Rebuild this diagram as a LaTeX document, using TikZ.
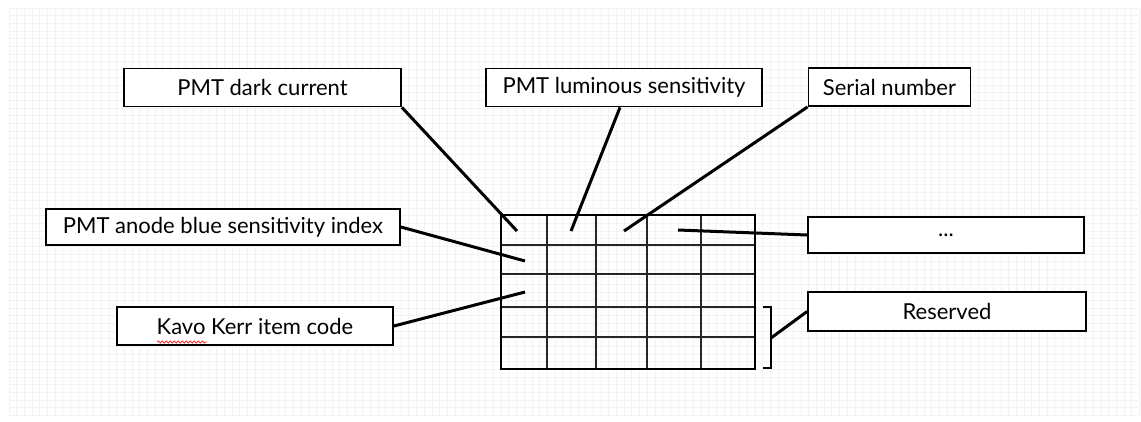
\documentclass[tikz,border=0pt]{standalone}
\usepackage{fontspec}
\setmainfont{Lato}
\usetikzlibrary{positioning,decorations.pathmorphing}

\begin{document}
\begin{tikzpicture}[x=1pt,y=-1pt,
  field/.style={draw,line width=1.8pt,fill=white,inner sep=0pt,
                font=\fontsize{22}{25}\selectfont,minimum height=38pt},
  link/.style={line width=3pt},
  rule/.style={line width=1.6pt,black!85},
  every node/.style={inner sep=2pt}]
  \useasboundingbox[fill=white] (0,0) rectangle (1141,421);
  %  -- - background grid  -- -
  \foreach \gx in {0,...,167} \draw[gray!10,line width=0.8pt] ({9+7.69*\gx},8) -- ({9+7.69*\gx},416);
  \foreach \gy in {0,...,53} \draw[gray!10,line width=0.8pt] (9,{8+7.69*\gy}) -- (1138,{8+7.69*\gy});
  %  -- - record table  -- -
  \foreach \cx in {547,596,647,701} \draw[rule] (\cx,215) -- (\cx,369);
  \foreach \ry in {245,274,307,337} \draw[rule] (501,\ry) -- (755,\ry);
  \draw[line width=2.6pt] (501,215) rectangle (755,369);
  \coordinate (t11) at (517,231);
  \coordinate (t12) at (571,231);
  \coordinate (t13) at (624,231);
  \coordinate (t14) at (678,230);
  \coordinate (t21) at (525,261);
  \coordinate (t31) at (525,292);
  %  -- - reserved bracket  -- -
  \coordinate (b1) at (763,307);
  \coordinate (b2) at (771,307);
  \coordinate (bm) at (771,338);
  \coordinate (b3) at (771,368);
  \coordinate (b4) at (763,368);
  \draw[line width=2.6pt] (b1) -- (b2) -- (b3) -- (b4);
  %  -- - field labels  -- -
  \node[field,minimum width=277pt] (dark) at (262.5,87.5) {PMT dark current};
  \node[field,minimum width=276pt] (lum) at (624,87.5) {PMT luminous sensitivity};
  \node[field,minimum width=162pt] (serial) at (889.5,87) {Serial number};
  \node[field,minimum width=354pt,minimum height=36pt] (anode) at (223,227) {PMT anode blue sensitivity index};
  \node[field,minimum width=276pt,minimum height=36pt] (more) at (946,235) {...};
  \node[field,minimum width=278pt,minimum height=39pt] (res) at (947,311.5) {Reserved};
  \node[field,minimum width=276pt] (kavo) at (255,326) {Kavo Kerr item code};
  \draw[red!80,line width=0.8pt,decorate,decoration={snake,amplitude=1.1pt,segment length=4pt}] (157,342) -- (207,342);
  %  -- - connectors  -- -
  \draw[link] (dark.south east) -- (t11);
  \draw[link] ([xshift=-4pt]lum.south) -- (t12);
  \draw[link] (serial.south west) -- (t13);
  \draw[link] (more.west) -- (t14);
  \draw[link] (anode.east) -- (t21);
  \draw[link] (kavo.east) -- (t31);
  \draw[link] (bm) -- (res.west);
\end{tikzpicture}
\end{document}
